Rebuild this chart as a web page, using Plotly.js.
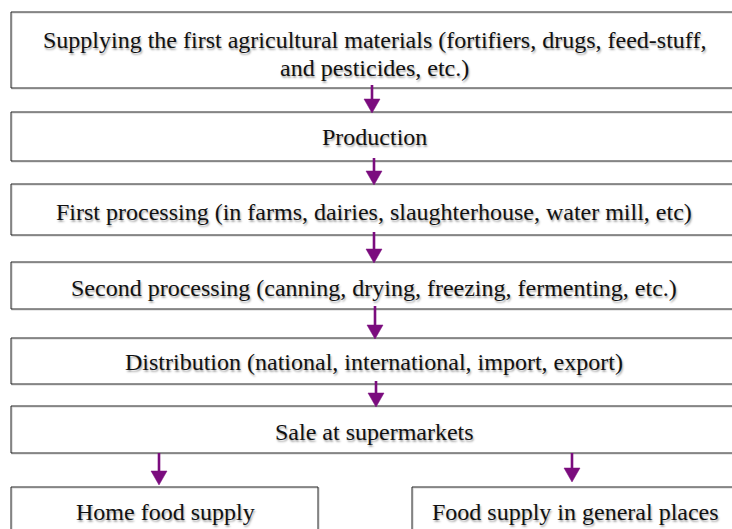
<!DOCTYPE html>
<html>
<head>
<meta charset="utf-8">
<script src="https://cdn.plot.ly/plotly-3.0.1.min.js"></script>
<style>
html, body { margin: 0; padding: 0; background: #fff; }
#chart { width: 732px; height: 529px; }
.shadowed text.annotation-text { text-shadow: 1px 2px 2px rgba(0,0,0,0.35); }
</style>
</head>
<body>
<div id="chart"></div>
<script>
// Flowchart content
const stages = [
  "Supplying the first agricultural materials (fortifiers, drugs, feed-stuff,<br>and pesticides, etc.)",
  "Production",
  "First processing (in farms, dairies, slaughterhouse, water mill, etc)",
  "Second processing (canning, drying, freezing, fermenting, etc.)",
  "Distribution (national, international, import, export)",
  "Sale at supermarkets"
];
const outlets = ["Home food supply", "Food supply in general places"];

// Geometry (layout only)
const stageTop = [12, 112, 184, 262, 338, 406];
const stageBottom = [88, 161, 235, 309, 384, 453];
const stageLeft = 11, stageRight = 745;
const stageTextX = 374;
const stageTextY = [54, 137, 212, 288, 362, 432];
const lineGap = 28;
const arrowX = [372, 374, 374, 375, 376];
const outletBox = [[11, 318], [412, 745]];
const outletTop = 487;
const outletTextX = [165, 575];
const outletTextY = 512;
const outletArrowX = [159, 572];

const purple = "#7b0c7e";
const fontFamily = "Liberation Serif";
const fontSize = 24;
const shapes = [];
const annotations = [];

function box(x0, x1, y0, y1) {
  shapes.push({type: "rect", xref: "x", yref: "y", x0: x0 + 1, x1: x1 + 1, y0: y0 + 1, y1: y1 + 1,
    line: {color: "rgba(0,0,0,0.18)", width: 1.2}, fillcolor: "rgba(0,0,0,0)"});
  shapes.push({type: "rect", xref: "x", yref: "y", x0: x0, x1: x1, y0: y0, y1: y1,
    line: {color: "#222", width: 1}, fillcolor: "rgba(0,0,0,0)"});
}
function arrow(x, y0, tip) {
  shapes.push({type: "line", xref: "x", yref: "y", x0: x, x1: x, y0: y0, y1: tip - 10,
    line: {color: purple, width: 2.6}});
  shapes.push({type: "path", xref: "x", yref: "y",
    path: `M ${x - 8},${tip - 14} L ${x + 8},${tip - 14} L ${x},${tip} Z`,
    fillcolor: purple, line: {color: purple, width: 0.5}});
}
function label(x, yc, text) {
  const lines = text.split("<br>");
  const start = yc - (lines.length - 1) * lineGap / 2;
  lines.forEach((ln, k) => {
    annotations.push({x: x, y: start + k * lineGap, xref: "x", yref: "y", text: ln,
      showarrow: false, xanchor: "center", yanchor: "middle",
      font: {family: fontFamily, size: fontSize, color: "#111"}});
  });
}

stages.forEach((s, i) => {
  box(stageLeft, stageRight, stageTop[i], stageBottom[i]);
  label(stageTextX, stageTextY[i], s);
});
outlets.forEach((s, i) => {
  box(outletBox[i][0], outletBox[i][1], outletTop, 560);
  label(outletTextX[i], outletTextY, s);
});
for (let i = 0; i < arrowX.length; i++) {
  arrow(arrowX[i], stageBottom[i] - 3, stageTop[i + 1] + 1);
}
outletArrowX.forEach((x, i) => arrow(x, 453, i === 0 ? 485 : 482));

const layout = {
  width: 732, height: 529,
  margin: {l: 0, r: 0, t: 0, b: 0},
  paper_bgcolor: "#fff", plot_bgcolor: "#fff",
  xaxis: {range: [0, 732], visible: false, fixedrange: true},
  yaxis: {range: [529, 0], visible: false, fixedrange: true},
  showlegend: false,
  shapes: shapes,
  annotations: annotations
};
Plotly.newPlot("chart", [], layout, {displayModeBar: false, staticPlot: true}).then(() => {
  document.getElementById("chart").classList.add("shadowed");
});
</script>
</body>
</html>
